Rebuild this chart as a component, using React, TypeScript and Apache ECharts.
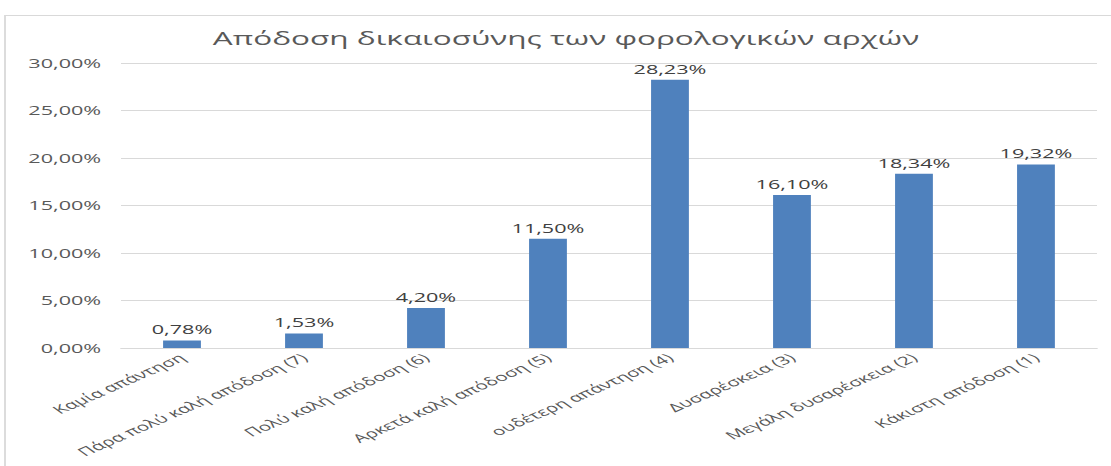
import React, { useEffect, useRef } from "react";
import * as echarts from "echarts";

const categories: string[] = [
  "Καμία απάντηση",
  "Πάρα πολύ καλή απόδοση (7)",
  "Πολύ καλή απόδοση (6)",
  "Αρκετά καλή απόδοση (5)",
  "ουδέτερη απάντηση (4)",
  "Δυσαρέσκεια (3)",
  "Μεγάλη δυσαρέσκεια (2)",
  "Κάκιστη απόδοση (1)",
];

const values: number[] = [0.78, 1.53, 4.2, 11.5, 28.23, 16.1, 18.34, 19.32];

const yMin = 0;
const yMax = 30;
const yInterval = 5;

const titleText = "Απόδοση δικαιοσύνης των φορολογικών αρχών";

const W = 1111;
const H = 466;
const S = 1.8006; // horizontal stretch of the reference
const NW = Math.round(W / S);

const fmt = (v: number) => v.toFixed(2).replace(".", ",") + "%";

export default function App() {
  const ref = useRef<HTMLDivElement>(null);

  useEffect(() => {
    if (!ref.current) return;
    const chart = echarts.init(ref.current, null, { renderer: "svg" });
    const font = "'Open Sans', 'Noto Sans', sans-serif";
    chart.setOption({
      animation: false,
      backgroundColor: "#ffffff",
      textStyle: { fontFamily: font },
      graphic: [
        {
          type: "rect",
          shape: { x: 5 / S, y: 15.5, width: NW + 10, height: H },
          style: { fill: "none", stroke: "#d9d9d9", lineWidth: 1 },
          silent: true,
        },
        {
          type: "text",
          x: 566 / S,
          y: 38,
          style: {
            text: titleText,
            fontFamily: font,
            fontSize: 17.5,
            fill: "#595959",
            textAlign: "center",
            textVerticalAlign: "middle",
          },
        },
      ],
      grid: {
        left: 121 / S,
        right: 14 / S,
        top: 63,
        bottom: H - 348,
        containLabel: false,
        outerBoundsMode: "none",
      },
      xAxis: {
        type: "category",
        data: categories,
        axisLine: { lineStyle: { color: "#d9d9d9", width: 1 } },
        axisTick: { show: false },
        axisLabel: {
          rotate: 38,
          interval: 0,
          margin: 8,
          color: "#595959",
          fontSize: 11.5,
          fontFamily: font,
        },
      },
      yAxis: {
        type: "value",
        min: yMin,
        max: yMax,
        interval: yInterval,
        axisLine: { show: false },
        axisTick: { show: false },
        splitLine: { lineStyle: { color: "#d9d9d9", width: 1 } },
        axisLabel: {
          color: "#595959",
          fontSize: 12,
          fontFamily: font,
          margin: 11,
          formatter: (v: number) => fmt(v),
        },
      },
      series: [
        {
          type: "bar",
          data: values,
          barWidth: "31%",
          itemStyle: { color: "#4F81BD" },
          label: {
            show: true,
            position: "top",
            distance: 5,
            color: "#404040",
            fontSize: 12,
            fontFamily: font,
            formatter: (p: any) => fmt(p.value),
          },
        },
      ],
    });
    return () => chart.dispose();
  }, []);

  return (
    <div
      style={{
        position: "absolute",
        left: 0,
        top: 0,
        width: W,
        height: H,
        overflow: "hidden",
        background: "#fff",
      }}
    >
      <div
        ref={ref}
        style={{
          width: NW,
          height: H,
          transform: `scaleX(${S})`,
          transformOrigin: "0 0",
        }}
      />
    </div>
  );
}
